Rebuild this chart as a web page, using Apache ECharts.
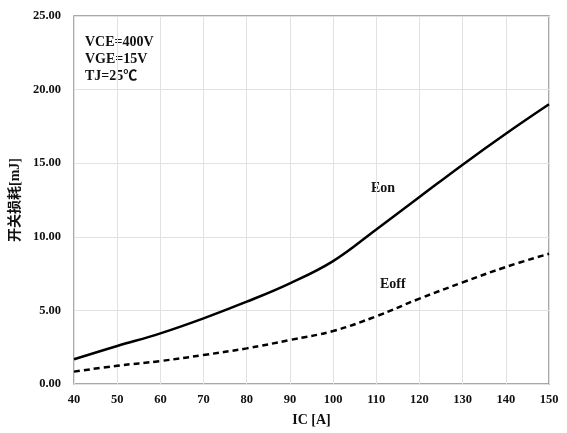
<!DOCTYPE html>
<html><head><meta charset="utf-8">
<script src="https://cdn.jsdelivr.net/npm/echarts@6/dist/echarts.min.js"></script>
<style>html,body{margin:0;padding:0;background:#fff}#c{width:567px;height:433px}</style>
</head><body><div id="c"></div>
<script>
const ic = [40,50,60,70,80,90,100,110,120,130,140,150];
const eon = [1.68,2.58,3.44,4.46,5.59,6.84,8.35,10.5,12.7,14.9,17.0,19.0];
const eoff = [0.84,1.24,1.56,1.97,2.42,2.99,3.6,4.6,5.8,6.9,7.95,8.85];
const yTicks = [0,5,10,15,20,25];
const FONT = '"Liberation Serif", "Noto Sans CJK SC", serif';
const chart = echarts.init(document.getElementById('c'));
chart.setOption({
  animation:false,
  backgroundColor:'#fff',
  grid:{left:73,right:18,top:16,bottom:49,show:true,borderColor:'#8c8c8c',borderWidth:1.5},
  xAxis:{type:'value',min:40,max:150,interval:10,
    name:'IC [A]',nameLocation:'middle',nameGap:29,
    nameTextStyle:{fontFamily:FONT,fontWeight:'bold',fontSize:14,color:'#111'},
    axisLine:{show:false},axisTick:{show:false},
    axisLabel:{fontFamily:FONT,fontWeight:'bold',fontSize:12.5,color:'#111',margin:10},
    splitLine:{show:true,lineStyle:{color:'#e2e2e2',width:1}}},
  yAxis:{type:'value',min:0,max:25,interval:5,
    name:'开关损耗[mJ]',nameLocation:'middle',nameGap:52,
    nameTextStyle:{fontFamily:FONT,fontWeight:'bold',fontSize:14,color:'#111'},
    axisLine:{show:false},axisTick:{show:false},
    axisLabel:{fontFamily:FONT,fontWeight:'bold',fontSize:12.5,color:'#111',margin:13,
      formatter:v=>v.toFixed(2)},
    splitLine:{show:true,lineStyle:{color:'#e2e2e2',width:1}}},
  series:[
    {name:'Eon',type:'line',smooth:0.4,symbol:'none',
     data:ic.map((x,i)=>[x,eon[i]]),lineStyle:{color:'#000',width:2.5}},
    {name:'Eoff',type:'line',smooth:0.4,symbol:'none',
     data:ic.map((x,i)=>[x,eoff[i]]),lineStyle:{color:'#000',width:2.5,type:[6,4]}}
  ],
  graphic:[
    {type:'text',left:85,top:34,style:{text:'VCE=400V\nVGE=15V\nTJ=25℃',lineHeight:17,
      font:'bold 14px '+FONT,fill:'#111'}},
    {type:'text',left:371,top:181,style:{text:'Eon',font:'bold 14px '+FONT,fill:'#111'}},
    {type:'text',left:380,top:277,style:{text:'Eoff',font:'bold 14px '+FONT,fill:'#111'}}
  ]
});
</script></body></html>
